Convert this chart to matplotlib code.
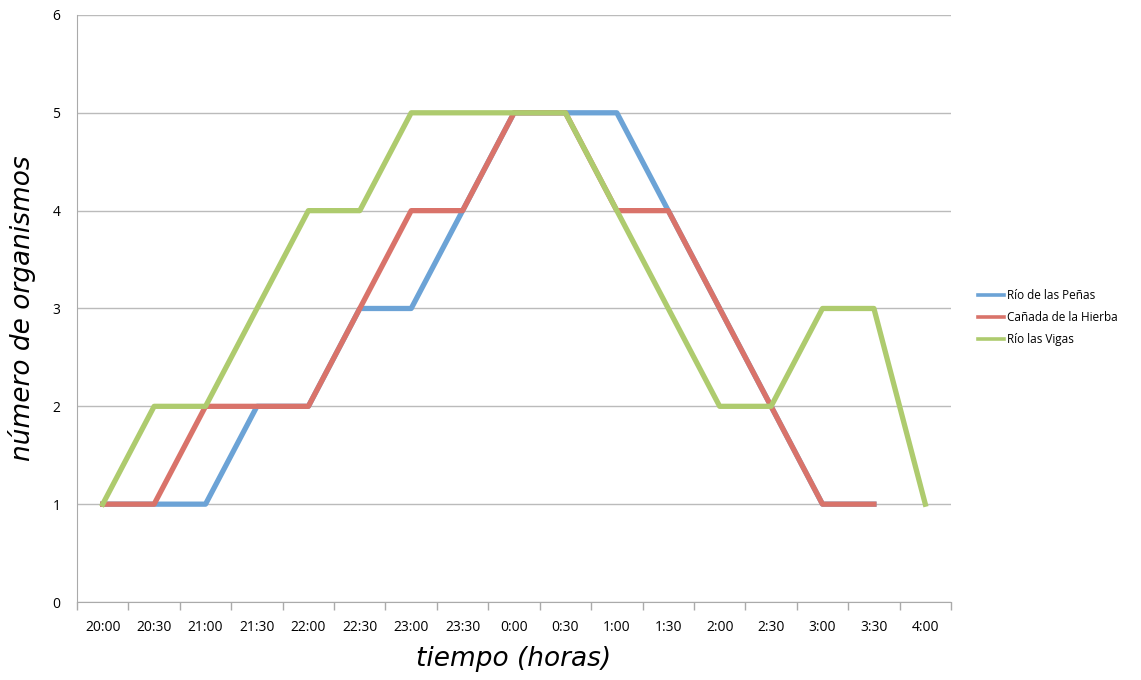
import numpy as np
import matplotlib.pyplot as plt

plt.rcParams["font.family"] = ["Open Sans", "DejaVu Sans"]

horas = ["20:00", "20:30", "21:00", "21:30", "22:00", "22:30", "23:00", "23:30",
         "0:00", "0:30", "1:00", "1:30", "2:00", "2:30", "3:00", "3:30", "4:00"]
penas = [1, 1, 1, 2, 2, 3, 3, 4, 5, 5, 5, 4, 3, 2, 1, 1, np.nan]
canada = [1, 1, 2, 2, 2, 3, 4, 4, 5, 5, 4, 4, 3, 2, 1, 1, np.nan]
vigas = [1, 2, 2, 3, 4, 4, 5, 5, 5, 5, 4, 3, 2, 2, 3, 3, 1]

fig = plt.figure(figsize=(11.41, 6.80), dpi=100)
ax = fig.add_axes([0.0675, 0.1147, 0.766, 0.8633])

x = np.arange(len(horas))
ax.plot(x, penas, color="#6CA3D6", lw=3.8, label="Río de las Peñas")
ax.plot(x, canada, color="#D9736A", lw=3.8, label="Cañada de la Hierba")
ax.plot(x, vigas, color="#AECB6E", lw=3.8, label="Río las Vigas")

ax.set_xlim(-0.5, len(horas) - 0.5)
ax.set_ylim(0, 6)
ax.set_xticks(x)
ax.set_xticklabels(horas, fontsize=10)
ax.set_xticks(np.arange(-0.5, len(horas)), minor=True)
ax.tick_params(axis="x", which="major", length=0, pad=13)
ax.tick_params(axis="x", which="minor", length=6, color="#AAAAAA", width=1)
ax.set_yticks(range(7))
ax.tick_params(axis="y", length=0, pad=12, labelsize=10)
ax.grid(axis="y", color="#BBBBBB", lw=1)
ax.set_axisbelow(True)
for s in ["top", "right"]:
    ax.spines[s].set_visible(False)
for s in ["left", "bottom"]:
    ax.spines[s].set_color("#AAAAAA")

ax.set_xlabel("tiempo (horas)", fontsize=19, style="italic", labelpad=8,
              family=["DejaVu Sans"])
ax.set_ylabel("número de organismos", fontsize=19, style="italic", labelpad=12,
              family=["DejaVu Sans"])

leg = ax.legend(loc="center left", bbox_to_anchor=(1.025, 0.485), frameon=False,
                fontsize=8.5, handlelength=2.2, handletextpad=0.3,
                labelspacing=0.75, borderaxespad=0)
for h in leg.get_lines():
    h.set_linewidth(2.6)

fig.savefig("out.png", dpi=100)
